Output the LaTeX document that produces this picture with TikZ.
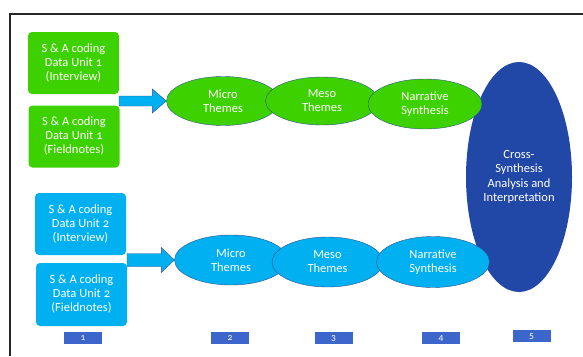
\documentclass[tikz,border=0pt]{standalone}
\usepackage{fontspec}
\setmainfont[Numbers=OldStyle]{Carlito}
\usetikzlibrary{shapes.geometric,calc}
\definecolor{unitgreen}{RGB}{61,209,0}
\definecolor{unitcyan}{RGB}{0,176,240}
\definecolor{crossblue}{RGB}{33,72,166}
\definecolor{edgeblue}{RGB}{47,82,143}
\definecolor{stageblue}{RGB}{61,102,204}
\tikzset{
  unitbox/.style={rounded corners=4pt,minimum width=91pt,minimum height=62pt,inner sep=0pt,
    align=center,text=white,font=\fontsize{12.5}{14}\selectfont},
  theme/.style={ellipse,draw=edgeblue,thin,minimum width=113pt,minimum height=49pt,inner sep=0pt,
    align=center,text=white,font=\fontsize{12.5}{14}\selectfont},
  barrow/.style={fill=unitcyan,draw=edgeblue,thin},
  stagebox/.style={fill=stageblue,minimum width=38pt,minimum height=12pt,inner sep=0pt,
    text=white,font=\fontsize{9.5}{10}\selectfont}
}
\begin{document}
\begin{tikzpicture}[x=1pt,y=-1pt]
\useasboundingbox (0,0) rectangle (583,356);
\draw[line width=1.3pt,black!85] (10,356) -- (10,14) -- (583,14);
% cross synthesis
\node[ellipse,fill=crossblue,minimum width=106pt,minimum height=230pt,inner sep=0pt,align=center,
  text=white,font=\fontsize{12.5}{14.5}\selectfont] (cross) at (519,177) {Cross-\\Synthesis\\Analysis and\\Interpretation};
% unit 1
\node[unitbox,fill=unitgreen] (g1) at (73.5,63) {S \& A coding\\Data Unit 1\\(Interview)};
\node[unitbox,fill=unitgreen] (g2) at (74,136.5) {S \& A coding\\Data Unit 1\\(Fieldnotes)};
\node[theme,fill=unitgreen] (mic1) at (223,101) {Micro\\Themes};
\node[theme,fill=unitgreen,minimum height=48pt] (mes1) at (322,101) {Meso\\Themes};
\node[theme,fill=unitgreen,minimum width=114pt,minimum height=50pt] (nar1) at (425,104) {Narrative\\Synthesis};
\coordinate (a1) at (119,101);
\draw[barrow] ($(a1)+(0,-5)$) -- ($(mic1.west)+(-14,-5)$) -- ($(mic1.west)+(-14,-12)$) -- (mic1.west)
  -- ($(mic1.west)+(-14,12)$) -- ($(mic1.west)+(-14,5)$) -- ($(a1)+(0,5)$) -- cycle;
% unit 2
\node[unitbox,fill=unitcyan] (b1) at (80.5,224) {S \& A coding\\Data Unit 2\\(Interview)};
\node[unitbox,fill=unitcyan,minimum height=63pt] (b2) at (81.5,294.5) {S \& A coding\\Data Unit 2\\(Fieldnotes)};
\node[theme,fill=unitcyan,minimum height=50pt] (mic2) at (231,260) {Micro\\Themes};
\node[theme,fill=unitcyan,minimum width=111pt,minimum height=50pt] (mes2) at (327.5,262) {Meso\\Themes};
\node[theme,fill=unitcyan,minimum height=51pt] (nar2) at (433,262) {Narrative\\Synthesis};
\coordinate (a2) at (127,260);
\draw[barrow] ($(a2)+(0,-6.5)$) -- ($(mic2.west)+(-13,-6.5)$) -- ($(mic2.west)+(-13,-12.5)$) -- (mic2.west)
  -- ($(mic2.west)+(-13,12.5)$) -- ($(mic2.west)+(-13,6.5)$) -- ($(a2)+(0,6.5)$) -- cycle;
% stages
\node[stagebox] (s1) at (83,338) {1};
\node[stagebox] (s2) at (230,338) {2};
\node[stagebox] (s3) at (333.5,338) {3};
\node[stagebox] (s4) at (441,338) {4};
\node[stagebox] (s5) at (531.5,336) {5};
\end{tikzpicture}
\end{document}
